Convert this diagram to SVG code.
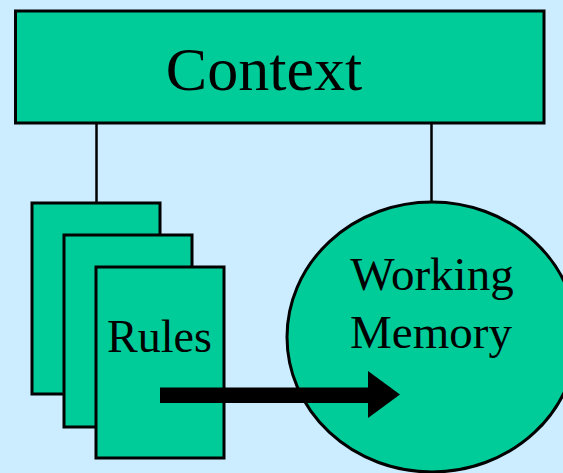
<svg xmlns="http://www.w3.org/2000/svg" width="563" height="473" viewBox="0 0 563 473">
  <style>
    .box { fill: #00CC99; stroke: #000; stroke-width: 3; }
    .wire { stroke: #000; stroke-width: 2.5; fill: none; }
    .lbl { font-family: "Liberation Serif", "Times New Roman", serif; fill: #000; text-anchor: middle; }
  </style>
  <rect x="0" y="0" width="563" height="473" fill="#CCECFF"/>

  <g id="connectors">
    <line class="wire" x1="96.5" y1="123" x2="96.5" y2="203"/>
    <line class="wire" x1="431.5" y1="123" x2="431.5" y2="203"/>
  </g>

  <g id="context">
    <rect class="box" x="15.5" y="11" width="528.5" height="112"/>
    <text class="lbl" x="264" y="90" font-size="62">Context</text>
  </g>

  <g id="rules">
    <rect class="box" x="32" y="203" width="128" height="191"/>
    <rect class="box" x="64" y="235" width="128" height="192"/>
    <rect class="box" x="96" y="267" width="128" height="191"/>
    <text class="lbl" x="159.5" y="352" font-size="46">Rules</text>
  </g>

  <g id="working-memory">
    <ellipse class="box" cx="432" cy="337" rx="145" ry="135"/>
    <text class="lbl" x="432" y="290" font-size="47">Working</text>
    <text class="lbl" x="431" y="348" font-size="47">Memory</text>
  </g>

  <g id="flow-arrow">
    <rect x="160" y="387.5" width="209" height="15.5" fill="#000"/>
    <polygon points="368,371 400,394.5 368,418" fill="#000"/>
  </g>
</svg>
